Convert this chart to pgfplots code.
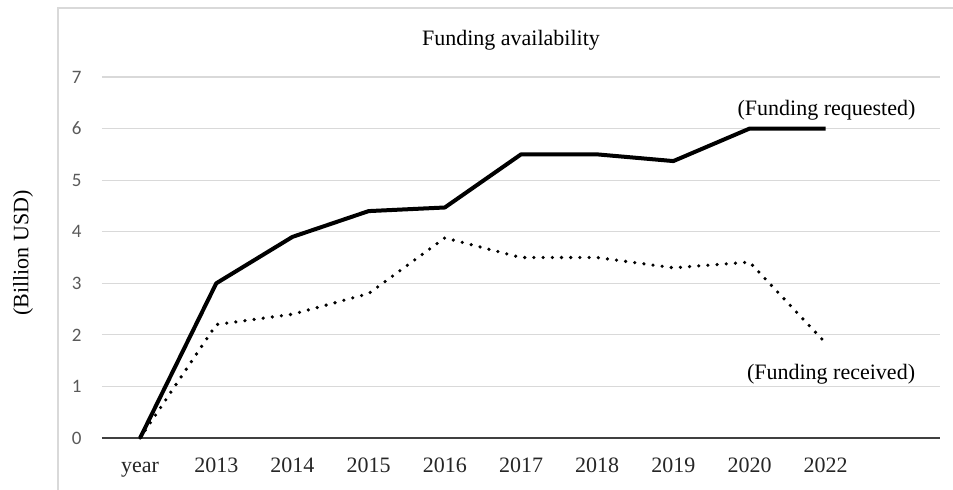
\documentclass[border=0pt]{standalone}
\usepackage{fontspec}
\setmainfont{Liberation Serif}
\newfontfamily\tickfont{Carlito}
\usepackage{pgfplots}
\pgfplotsset{compat=1.18}
\definecolor{gridgray}{HTML}{D9D9D9}
\definecolor{tickgray}{HTML}{595959}
\definecolor{axisgray}{HTML}{404040}
\begin{document}
\begin{tikzpicture}
\useasboundingbox (-51pt,-25.5pt) rectangle (425.5pt,219pt);
\clip (-51pt,-25.5pt) rectangle (425.5pt,219pt);
\draw[gridgray, line width=0.6pt] (-22pt,-60pt) -- (-22pt,215pt) -- (460pt,215pt);
\begin{axis}[
  at={(0,0)}, anchor=south west,
  scale only axis,
  width=419pt, height=180.5pt,
  xmin=-0.5, xmax=10.5,
  ymin=0, ymax=7,
  axis x line*=bottom,
  axis y line*=left,
  x axis line style={axisgray, line width=0.7pt},
  y axis line style={draw=none},
  xtick={0,1,2,3,4,5,6,7,8,9},
  xticklabels={year,2013,2014,2015,2016,2017,2018,2019,2020,2022},
  ytick={0,1,2,3,4,5,6,7},
  major tick length=0pt,
  ymajorgrids,
  grid style={gridgray, line width=0.6pt},
  xticklabel style={font=\fontsize{11}{13}\selectfont, anchor=base, yshift=-17.3pt, inner sep=0pt, text=black!85},
  yticklabel style={font=\tickfont\fontsize{9.5}{11}\selectfont, text=tickgray, anchor=east, inner sep=0pt, xshift=-10pt},
  /pgf/number format/assume math mode=true,
  clip=false,
]
\addplot[black, line width=2pt, line join=round] coordinates {
  (0,0) (1,3.0) (2,3.9) (3,4.4) (4,4.47) (5,5.5) (6,5.5) (7,5.37) (8,6.0) (9,6.0)
};
\addplot[black, line width=1.8pt, line cap=round, dash pattern=on 0pt off 4.6pt] coordinates {
  (0,0) (1,2.2) (2,2.4) (3,2.8) (4,3.88) (5,3.5) (6,3.5) (7,3.3) (8,3.41) (9,1.84)
};
\node[anchor=base, font=\fontsize{11}{13}\selectfont, inner sep=0pt] at (axis cs:9.01,6.26) {(Funding requested)};
\node[anchor=base, font=\fontsize{11}{13}\selectfont, inner sep=0pt] at (axis cs:9.07,1.125) {(Funding received)};
\end{axis}
\node[anchor=base, font=\fontsize{11}{13}\selectfont, inner sep=0pt] at (204.5pt,196.5pt) {Funding availability};
\node[rotate=90, font=\fontsize{11}{13}\selectfont, inner sep=0pt] at (-39.5pt,92.5pt) {(Billion USD)};
\end{tikzpicture}
\end{document}
